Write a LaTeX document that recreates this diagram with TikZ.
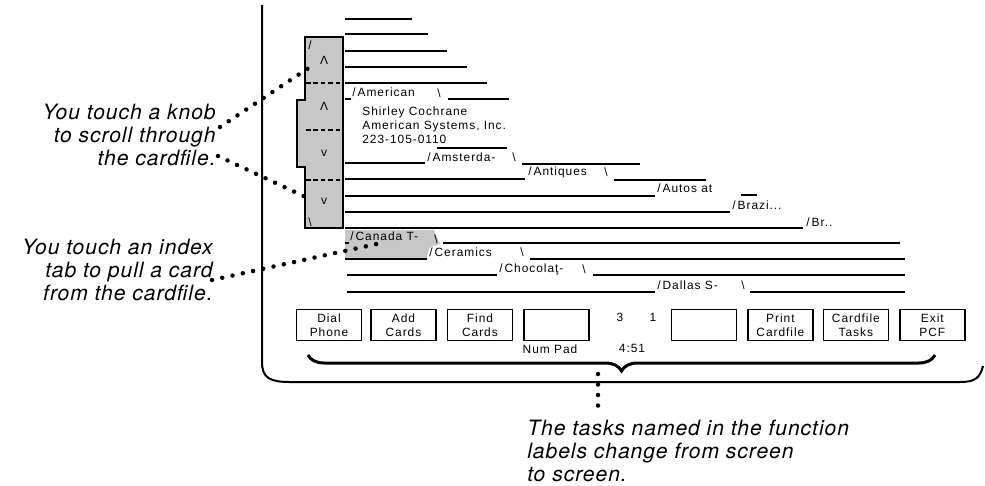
\documentclass[tikz,border=0pt]{standalone}
\usepackage{fontspec}
\usepackage{tikz}
\usetikzlibrary{positioning, decorations.pathreplacing}
\newfontfamily\notefont[LetterSpace=4.5]{TeX Gyre Heros}
\newfontfamily\scrfont[LetterSpace=8]{Liberation Sans}

\begin{document}
\begin{tikzpicture}[x=0.02cm, y=-0.02cm,
note/.style={font=\notefont\itshape\fontsize{12}{13}\selectfont, inner sep=0pt},
scrtext/.style={font=\scrfont\fontsize{6.8}{8.2}\selectfont, inner sep=0pt},
tab/.style={scrtext, anchor=west},
fkey/.style={rectangle, draw, line width=0.03cm, minimum width=1.3cm, minimum height=0.62cm, align=center, inner sep=1pt, scrtext},
cardline/.style={line width=0.04cm},
knobpanel/.style={draw, line width=0.03cm, fill=black!22},
knobsep/.style={line width=0.03cm, dash pattern=on 0.09cm off 0.06cm},
leader/.style={line width=0.09cm, line cap=round, dash pattern=on 0pt off 0.21cm},
]
\useasboundingbox (0,0) rectangle (985,485);

%Screen
\draw[line width=0.04cm] (262,5) -- (262,362) .. controls (262,378) and (270,382) .. (290,382) -- (960,382) .. controls (975,382) and (980,378) .. (983,366);

%Knob panel
\draw[knobpanel] (305,37) -- (343,37) -- (343,228) -- (305,228) -- (305,167) -- (297,167) -- (297,100) -- (305,100) -- cycle;
\draw[knobsep] (306,83) -- (343,83);
\draw[knobsep] (306,130) -- (343,130);
\draw[knobsep] (306,180) -- (343,180);
\node[scrtext]      (ktop)       at (310,45)     {/};
\node[scrtext]      (kup1)       at (324,60)     {Λ};
\node[scrtext]      (kup2)       at (324,106)    {Λ};
\node[scrtext]      (kdown1)     at (324,153)    {v};
\node[scrtext]      (kdown2)     at (324,201)    {v};
\node[scrtext]      (kbot)       at (310,222)    {\textbackslash};

%Cards behind
\draw[cardline] (345,19) -- (412,19);
\draw[cardline] (345,34) -- (428,34);
\draw[cardline] (345,51) -- (447,51);
\draw[cardline] (345,67) -- (467,67);
\draw[cardline] (345,83) -- (487,83);

%Front card
\draw[cardline] (345,99) -- (351,99);
\node[tab]      (american)      at (352,92)     {/\,American};
\node[tab]      (americanend)   at (437,93)     {\textbackslash};
\draw[cardline] (448,99) -- (509,99);
\node[scrtext, anchor=north west, align=left]   (entry)   at (362,106)
    {Shirley Cochrane\\American Systems, Inc.\\223-105-0110};

%Cards in front
\draw[cardline] (437,148) -- (507,148);
\draw[cardline] (345,163) -- (425,163);
\node[tab]      (amsterdam)     at (427,157)    {/\,Amsterda-};
\node[tab]      (amsterdamend)  at (512,157)    {\textbackslash};
\draw[cardline] (522,164) -- (640,164);

\draw[cardline] (345,179) -- (525,179);
\node[tab]      (antiques)      at (528,172)    {/\,Antiques};
\node[tab]      (antiquesend)   at (604,172)    {\textbackslash};
\draw[cardline] (614,180) -- (706,180);

\draw[cardline] (345,196) -- (655,196);
\node[tab]      (autos)         at (657,188)    {/\,Autos at};

\draw[cardline] (345,212) -- (730,212);
\draw[cardline] (741,195) -- (757,195);
\node[tab]      (brazil)        at (732,205)    {/\,Brazi...};

\draw[cardline] (345,228) -- (803,228);
\node[tab]      (br)            at (806,222)    {/\,Br..};

\draw[knobpanel, draw=none] (345,230) -- (434,230) -- (440,244) -- (430,247) -- (426,259) -- (345,259) -- cycle;
\draw[cardline] (345,243) -- (349,243);
\node[tab]      (canada)        at (350,236)    {/\,Canada T-};
\node[tab]      (canadaend)     at (434,239)    {\textbackslash};
\draw[cardline] (443,243) -- (900,243);

\draw[cardline] (345,259) -- (427,259);
\node[tab]      (ceramics)      at (429,252)    {/\,Ceramics};
\node[tab]      (ceramicsend)   at (520,252)    {\textbackslash};
\draw[cardline] (530,259) -- (905,259);

\draw[cardline] (347,275) -- (497,275);
\node[tab]      (chocolat)      at (499,269)    {/\,Chocolaţ-};
\node[tab]      (chocolatend)   at (582,269)    {\textbackslash};
\draw[cardline] (593,275) -- (905,275);

\draw[cardline] (347,292) -- (655,292);
\node[tab]      (dallas)        at (657,285)    {/\,Dallas S-};
\node[tab]      (dallasend)     at (741,285)    {\textbackslash};
\draw[cardline] (750,292) -- (905,292);

%Function keys
\node[fkey]     (dial)                                  at (329,325)    {Dial\\Phone};
\node[fkey]     (add)       [right=0.16cm of dial]                      {Add\\Cards};
\node[fkey]     (find)      [right=0.2cm of add]                        {Find\\Cards};
\node[fkey]     (numkey)    [right=0.2cm of find]                       {};
\node[fkey]     (blank)     [right=1.62cm of numkey]                    {};
\node[fkey]     (print)     [right=0.2cm of blank]                      {Print\\Cardfile};
\node[fkey]     (tasks)     [right=0.18cm of print]                     {Cardfile\\Tasks};
\node[fkey]     (exit)      [right=0.2cm of tasks]                      {Exit\\PCF};
\node[scrtext]  (numpad)    at (550,349)    {Num Pad};
\node[scrtext]  (three)     at (620,317)    {3};
\node[scrtext]  (one)       at (653,317)    {1};
\node[scrtext]  (clock)     at (632,348)    {4:51};

%Brace
\draw[line width=0.06cm, decorate, decoration={brace, amplitude=0.32cm}] (935,355) -- (308,355);

%Notes
\node[note, anchor=east, align=right]   (knobnote)  at (216,135)
    {You touch a knob\\to scroll through\\the cardfile.};
\node[note, anchor=east, align=right]   (tabnote)   at (213,270)
    {You touch an index\\tab to pull a card\\from the cardfile.};
\node[note, anchor=west, align=left]    (tasknote)  at (527,451)
    {The tasks named in the function\\labels change from screen\\to screen.};

\coordinate (knobfrom)  at (220,127);
\coordinate (knobup)    at (316,63);
\coordinate (filefrom)  at (218,156);
\coordinate (knobdown)  at (312,200);
\coordinate (cardfrom)  at (212,280);
\coordinate (tabpoint)  at (381,243);
\coordinate (bracetip)  at (598,374);
\coordinate (taskto)    at (598,410);

%Lines
\draw[leader] (knobfrom) -- (knobup);
\draw[leader] (filefrom) -- (knobdown);
\draw[leader] (cardfrom) -- (tabpoint);
\draw[leader] (bracetip) -- (taskto);
\end{tikzpicture}
\end{document}
